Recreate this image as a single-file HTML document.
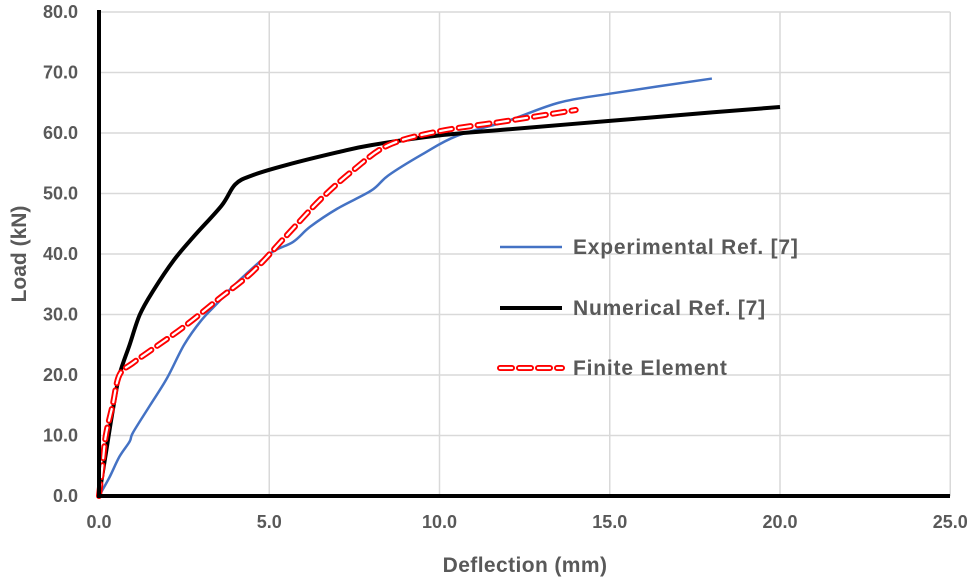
<!DOCTYPE html>
<html><head><meta charset="utf-8"><style>
body{margin:0;background:#fff}
svg text{font-family:"Liberation Sans",sans-serif;font-weight:bold;fill:#595959}
</style></head><body>
<svg id="chart" width="975" height="580">
<g id="grid"></g>
<g id="ticks"></g>
<g id="series"></g>
<line x1="99" y1="496" x2="950" y2="496" stroke="#000" stroke-width="4"/>
<line x1="99" y1="10" x2="99" y2="498" stroke="#000" stroke-width="4"/>
<text x="525" y="572" text-anchor="middle" font-size="21" letter-spacing="0.4">Deflection (mm)</text>
<text transform="translate(26,254) rotate(-90)" text-anchor="middle" font-size="21">Load (kN)</text>
<g>
<g><line x1="500" y1="247" x2="562" y2="247" stroke="#4472C4" stroke-width="2.5"/><text x="573" y="254" font-size="21" letter-spacing="0.8">Experimental Ref. [7]</text></g>
<g><line x1="500" y1="308" x2="562" y2="308" stroke="#000" stroke-width="4"/><text x="573" y="315" font-size="21" letter-spacing="0.8">Numerical Ref. [7]</text></g>
<g><line x1="500" y1="368" x2="562" y2="368" stroke="#f00" stroke-width="6" stroke-dasharray="12,7" stroke-linecap="round"/><line x1="500" y1="368" x2="562" y2="368" stroke="#fff" stroke-width="2.2" stroke-dasharray="12,7" stroke-linecap="round"/><text x="573" y="375" font-size="21" letter-spacing="0.8">Finite Element</text></g>
</g>
</svg>
<script>
const xTicks=[0,5,10,15,20,25];
const yTicks=[0,10,20,30,40,50,60,70,80];
const expX=[0,0.3,0.6,0.9,1.0,1.5,2.0,2.5,3.0,3.5,4.0,5.0,5.7,6.2,7.0,8.0,8.5,9.5,10.5,12,13.5,15,18];
const expY=[0,3,6.5,9,10.5,15,19.5,25,29,32,35,40,42,44.5,47.5,50.5,53,56.5,59.5,62,65,66.5,69];
const numX=[0,0.2,0.4,0.6,0.9,1.2,1.6,2.2,2.8,3.6,4.0,4.5,5.5,7,8,10,12,15,18,20];
const numY=[0,7,14,20,25,30,34,39,43,48,51.5,53,54.7,56.8,58,59.6,60.6,62,63.4,64.3];
const feX=[0,0.1,0.2,0.4,0.6,1.0,1.5,2.5,3.5,4.5,5.5,6.5,7.5,8.5,10,12,14];
const feY=[0,5,10,15,20,22,24,28,32.5,37,43,49,54,58,60.3,62,63.8];
const NS='http://www.w3.org/2000/svg';
const sx=v=>99+v*34.05, sy=v=>496-v*6.05;
const grid=document.getElementById('grid'),ticks=document.getElementById('ticks'),ser=document.getElementById('series');
function mk(t,a,p){const e=document.createElementNS(NS,t);for(const k in a)e.setAttribute(k,a[k]);p.appendChild(e);return e;}
xTicks.forEach(v=>{
 const l=mk('line',{x1:sx(v),x2:sx(v),y1:sy(80),y2:sy(0),stroke:'#d9d9d9','stroke-width':1.5},grid);
 
 
 const t=mk('text',{x:sx(v),y:528,'text-anchor':'middle','font-size':18},ticks);t.textContent=v.toFixed(1);
 
 
});
yTicks.forEach(v=>{
 const l=mk('line',{x1:sx(0),x2:sx(25),y1:sy(v),y2:sy(v),stroke:'#d9d9d9','stroke-width':1.5},grid);
 
 
 const t=mk('text',{x:78,y:sy(v)+6,'text-anchor':'end','font-size':18},ticks);t.textContent=v.toFixed(1);
 
 
});
function smooth(X,Y){
 const P=X.map((x,i)=>[sx(x),sy(Y[i])]);
 let d='M'+P[0][0]+','+P[0][1];
 for(let i=0;i<P.length-1;i++){
  const p0=P[Math.max(0,i-1)],p1=P[i],p2=P[i+1],p3=P[Math.min(P.length-1,i+2)];
  const c1=[p1[0]+(p2[0]-p0[0])/6,p1[1]+(p2[1]-p0[1])/6];
  const c2=[p2[0]-(p3[0]-p1[0])/6,p2[1]-(p3[1]-p1[1])/6];
  d+=' C'+c1+' '+c2+' '+p2;
 }
 return d;
}
let p=mk('path',{d:smooth(expX,expY),fill:'none',stroke:'#4472C4','stroke-width':2.5},ser);


p=mk('path',{d:smooth(numX,numY),fill:'none',stroke:'#000','stroke-width':4},ser);


p=mk('path',{d:smooth(feX,feY),fill:'none',stroke:'#f00','stroke-width':6,'stroke-dasharray':'12,7','stroke-linecap':'round'},ser);


p=mk('path',{d:smooth(feX,feY),fill:'none',stroke:'#fff','stroke-width':2.2,'stroke-dasharray':'12,7','stroke-linecap':'round'},ser);


</script>
</body></html>
